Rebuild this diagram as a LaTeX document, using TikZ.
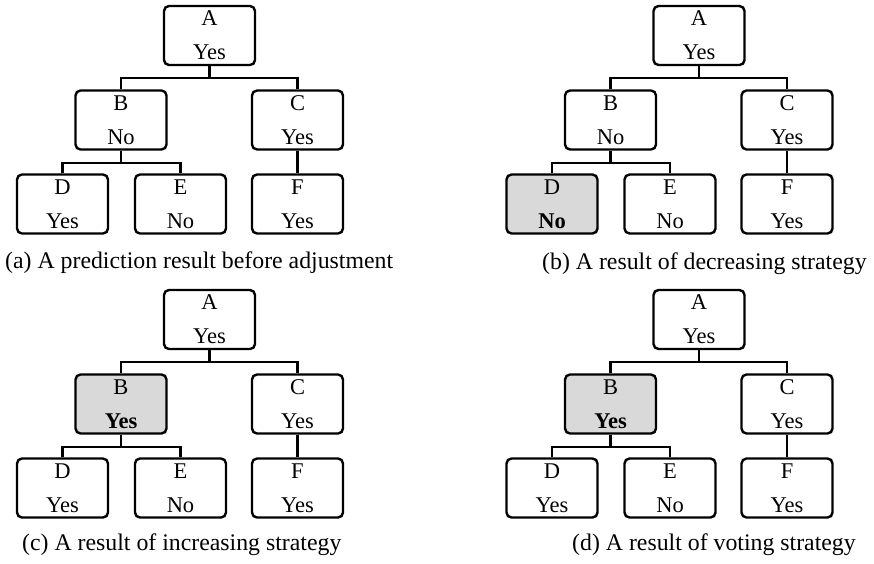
\documentclass[tikz,border=0pt]{standalone}
\usepackage{fontspec}
\setmainfont{Liberation Serif}
\usetikzlibrary{calc}

\tikzset{
  tbox/.style={draw, line width=2.4pt, rounded corners=5pt, minimum width=91pt,
    minimum height=59pt, inner sep=0pt},
  hot/.style={fill=black!15},
  conn/.style={line width=2.4pt},
  boxtext/.style={anchor=base, inner sep=0pt, font=\fontsize{22.5}{26}\selectfont},
  captext/.style={anchor=base west, inner sep=0pt, font=\fontsize{23.8}{28}\selectfont},
}

% #1 prefix, #2 x shift, #3 y shift, #4 B value, #5 B style, #6 D value, #7 D style
\newcommand{\drawtree}[7]{%
  \begin{scope}[shift={(#2,#3)}]
    \node[tbox] (#1A) at (209.5,35.5) {};
    \node[tbox,#5] (#1B) at (121,120) {};
    \node[tbox] (#1C) at (297.5,120) {};
    \node[tbox,#7] (#1D) at (62.5,204) {};
    \node[tbox] (#1E) at (180.5,204) {};
    \node[tbox] (#1F) at (297.5,204) {};
    % letters and predicted values
    \node[boxtext] (#1At) at ($(#1A)+(0,-10)$) {A};
    \node[boxtext] (#1Av) at ($(#1A)+(0,24)$) {Yes};
    \node[boxtext] (#1Bt) at ($(#1B)+(0,-10)$) {B};
    \node[boxtext] (#1Bv) at ($(#1B)+(0,24)$) {#4};
    \node[boxtext] (#1Ct) at ($(#1C)+(0,-10)$) {C};
    \node[boxtext] (#1Cv) at ($(#1C)+(0,24)$) {Yes};
    \node[boxtext] (#1Dt) at ($(#1D)+(0,-10)$) {D};
    \node[boxtext] (#1Dv) at ($(#1D)+(0,24)$) {#6};
    \node[boxtext] (#1Et) at ($(#1E)+(0,-10)$) {E};
    \node[boxtext] (#1Ev) at ($(#1E)+(0,24)$) {No};
    \node[boxtext] (#1Ft) at ($(#1F)+(0,-10)$) {F};
    \node[boxtext] (#1Fv) at ($(#1F)+(0,24)$) {Yes};
    % tree edges
    \coordinate (#1jA) at ($(#1A.south)+(0,12)$);
    \coordinate (#1jB) at ($(#1B.south)+(0,12)$);
    \draw[conn] (#1A.south) -- (#1jA);
    \draw[conn] (#1B.north) |- (#1jA) -| (#1C.north);
    \draw[conn] (#1B.south) -- (#1jB);
    \draw[conn] (#1D.north) |- (#1jB) -| (#1E.north);
    \draw[conn] (#1C.south) -- (#1F.north);
  \end{scope}%
}

\begin{document}
\begin{tikzpicture}[x=1pt,y=-1pt]
  \useasboundingbox (0,0) rectangle (874,563);

  \drawtree{a}{0}{0}{No}{}{Yes}{}
  \drawtree{b}{489.5}{0}{No}{}{\textbf{No}}{hot}
  \drawtree{c}{0}{284}{\textbf{Yes}}{hot}{Yes}{}
  \drawtree{d}{489.5}{284}{\textbf{Yes}}{hot}{Yes}{}

  \node[captext] (capa) at (5,268) {(a) A prediction result before adjustment};
  \node[captext] (capb) at (542,269) {(b) A result of decreasing strategy};
  \node[captext] (capc) at (22,550) {(c) A result of increasing strategy};
  \node[captext] (capd) at (572,550) {(d) A result of voting strategy};
\end{tikzpicture}
\end{document}
